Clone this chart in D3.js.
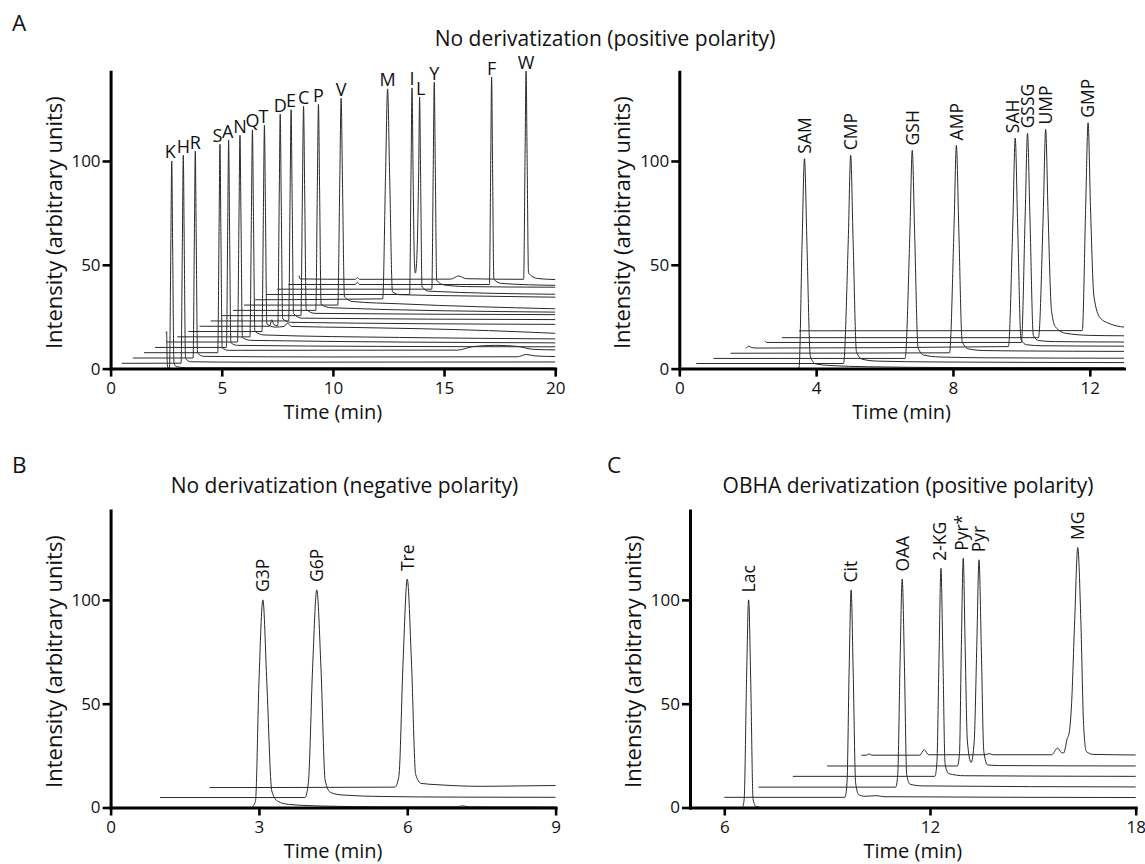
<!DOCTYPE html>
<html><head><meta charset="utf-8">
<script src="https://cdn.jsdelivr.net/npm/d3@7"></script>
<style>body{margin:0;background:#fff}svg{display:block}</style>
</head><body><svg id="c" width="1145" height="864"></svg>
<script>
// ---------------- DATA ----------------
const yTicks = [0, 50, 100];
const yMax = 143;

// Panel A (left): amino acids, positive polarity
const aLeftTicks = [0, 5, 10, 15, 20];
const aLeftNames = ["K","H","R","S","A","N","Q","T","D","E","C","P","V","M","I","L","Y","F","W"];
const aLeftTimes = [2.75,3.27,3.81,4.92,5.31,5.82,6.38,6.92,7.63,8.12,8.68,9.35,10.37,12.46,13.56,13.9,14.56,17.14,18.69];
const aLeftTops  = [100,102.7,104.8,108,110,112.4,115,117.2,122.5,124.7,126.3,127.3,130.2,134.7,135.2,130.7,137.9,140.4,143.3];
const aLeftTraces = [
 [[2.49,17.2],[2.52,17.8],[2.545,4],[2.57,0.4],[2.65,0.3],[2.71,60],[2.75,100],[2.79,60],[2.85,3],[2.95,1],[3.4,0.4],[20,0.3]],
 [[0.5,2.55],[3.17,2.6],[3.23,62.6],[3.27,102.7],[3.31,62.6],[3.37,5],[3.6,3.3],[6,3.1],[20,3.2]],
 [[1,5.1],[3.71,5.1],[3.77,64.9],[3.81,104.8],[3.85,64.9],[3.91,7.5],[4.2,5.9],[10,5.6],[18.3,5.7],[18.7,6.8],[19.1,6.1],[20,5.8]],
 [[1.5,7.65],[4.82,7.65],[4.88,67.9],[4.92,108],[4.96,67.9],[5.02,10],[5.3,8.8],[15.6,8.9],[16.3,10.6],[17.3,11.2],[18.3,10.7],[19,9.3],[20,9]],
 [[2,10.2],[5.21,10.2],[5.27,70.1],[5.31,110],[5.35,70.1],[5.41,12.5],[5.7,11.2],[12,10.7],[20,10.5]],
 [[2.5,13.4],[2.56,12.8],[5.71,12.8],[5.775,72.5],[5.82,112.4],[5.865,72.5],[5.93,15],[6.3,13.6],[20,12.4]],
 [[3,15.3],[6.27,15.3],[6.335,75.1],[6.38,115],[6.425,75.1],[6.49,18],[6.9,16.2],[13,15],[20,14.3]],
 [[3.5,17.85],[6.81,17.85],[6.875,77.5],[6.92,117.2],[6.965,77.5],[7.03,21.5],[7.4,20],[7.8,20.3],[7.95,21.8],[8.15,20.3],[11,19.8],[14,19.2],[17,18.3],[20,17]],
 [[4,20.4],[7.15,20.4],[7.25,23.5],[7.35,21.2],[7.52,20.6],[7.585,81.7],[7.63,122.5],[7.675,81.7],[7.74,24],[8.1,22.3],[20,21.3]],
 [[4.5,22.95],[8.01,22.95],[8.075,84],[8.12,124.7],[8.165,84],[8.23,26.5],[8.6,24.3],[20,23.6]],
 [[5,25.5],[8.56,25.5],[8.63,86],[8.68,126.3],[8.73,86],[8.8,28.5],[9.2,26.6],[20,26]],
 [[5.5,28.05],[9.23,28.05],[9.3,87.6],[9.35,127.3],[9.4,87.6],[9.47,31],[9.9,29.3],[20,27.2]],
 [[6,30.6],[10.22,30.6],[10.31,90.4],[10.37,130.2],[10.43,90.4],[10.52,34.5],[10.9,32.3],[13,31.2],[20,28.8]],
 [[6.5,33.15],[12.24,33.6],[12.37,94.1],[12.46,134.7],[12.55,94.1],[12.68,37],[13,35.6],[16,35],[20,34.4]],
 [[7,35.7],[13.45,35.7],[13.515,95.4],[13.56,135.2],[13.605,95.4],[13.665,52],[13.71,46],[13.77,52],[13.855,92.7],[13.9,130.7],[13.945,92.7],[14.01,39.5],[14.3,37.3],[20,35.8]],
 [[7.5,38.25],[14.45,38.25],[14.515,97.9],[14.56,137.9],[14.605,97.9],[14.67,42.5],[15,40.3],[16,39.5],[20,39.2]],
 [[8,40.5],[11,40.5],[11.1,41.5],[11.2,40.5],[17.04,40.5],[17.1,100.2],[17.14,140.4],[17.18,100.2],[17.24,43],[17.6,41],[20,40.1]],
 [[8.48,44.8],[8.52,43.2],[11,43],[11.1,43.8],[11.2,43],[15.3,43.1],[15.65,44.6],[16,43.3],[18.58,43],[18.645,103.2],[18.69,143.3],[18.735,103.2],[18.8,46],[19.2,43.4],[20,42.9]]
];

// Panel A (right): positive polarity
const aRightTicks = [0, 4, 8, 12];
const aRightNames = ["SAM","CMP","GSH","AMP","SAH","GSSG","UMP","GMP"];
const aRightTimes = [3.66,5.01,6.81,8.1,9.82,10.18,10.71,11.95];
const aRightTops  = [101.1,102.7,105.1,107.5,111,113.3,115.2,118.4];
const aRightTraces = [
 [[3.45,0],[3.5,0.3],[3.59,61],[3.66,101.1],[3.73,61],[3.83,6],[3.98,2.3],[4.4,1.5],[5.5,0.9],[8,0.5],[13,0.4]],
 [[0.5,2.45],[4.8,2.45],[4.94,62.2],[5.01,102.7],[5.08,62.2],[5.18,8],[5.35,4.5],[5.8,3.6],[7.5,3.2],[13,2.9]],
 [[1,4.9],[6.6,4.9],[6.74,65],[6.81,105.1],[6.88,65],[6.98,10],[7.15,6.5],[7.6,5.6],[9,5.2],[13,5]],
 [[1.5,7.4],[7.9,7.6],[8.03,67.5],[8.1,107.5],[8.17,67.5],[8.27,13],[8.45,9.5],[8.9,8.7],[10,8.5],[13,8.3]],
 [[1.95,9.7],[2.03,10.8],[2.12,10.1],[2.3,9.9],[9.62,10.6],[9.75,70],[9.82,111],[9.89,70],[9.99,14],[10.15,11.5],[10.6,11],[13,10.8]],
 [[2.5,13.4],[2.56,12.6],[10.0,12.6],[10.11,73],[10.18,113.3],[10.25,73],[10.35,16],[10.5,13.5],[11,13],[13,12.8]],
 [[3.0,14.9],[10.5,14.9],[10.64,75],[10.71,115.2],[10.78,75],[10.88,28],[11.0,20],[11.3,17],[12,16],[13,15.8]],
 [[3.5,18.2],[11.78,18.3],[11.88,78],[11.95,118.4],[12.02,78],[12.12,35],[12.3,24.5],[12.6,21.5],[13,20]]
];

// Panel B: negative polarity
const bTicks = [0, 3, 6, 9];
const bNames = ["G3P","G6P","Tre"];
const bTimes = [3.08,4.17,6.0];
const bTops  = [100,104.8,110];
const bTraces = [
 [[2.85,0],[2.93,3],[3.0,60],[3.08,100],[3.16,60],[3.26,8],[3.38,3],[3.6,1.5],[4.3,0.7],[5.5,0.3],[7.0,0.3],[7.12,0.8],[7.25,0.3],[9,0.2]],
 [[1,4.8],[3.93,4.8],[4.0,12],[4.085,67],[4.17,104.8],[4.255,67],[4.34,13],[4.45,7.2],[4.7,6],[5.5,5.3],[7,5],[9,4.9]],
 [[2,9.6],[5.75,9.8],[5.83,15],[5.915,70],[6.0,110],[6.085,70],[6.17,16],[6.28,11.6],[6.6,11],[7.5,10.2],[8.3,10.4],[9,10.6]]
];

// Panel C: OBHA derivatization
const cTicks = [6, 12, 18];
const cNames = ["Lac","Cit","OAA","2-KG","Pyr*","Pyr","MG"];
const cTimes = [6.71,9.7,11.19,12.32,12.97,13.43,16.31];
const cTops  = [100,104.8,110,115.2,120,119.3,125.2];
const cTraces = [
 [[6.53,0],[6.58,4],[6.65,62],[6.71,100],[6.77,62],[6.84,4],[6.92,0.5],[7.1,0],[18,0]],
 [[6,4.9],[9.52,4.9],[9.58,12],[9.64,65],[9.7,104.8],[9.76,65],[9.83,12],[9.92,6.2],[10.1,5.4],[10.45,5.7],[10.65,5.2],[18,4.8]],
 [[7,9.8],[11.0,9.8],[11.06,16],[11.125,68],[11.19,110],[11.255,68],[11.32,16],[11.42,11.2],[11.8,10.4],[18,9.9]],
 [[8,15],[12.14,15],[12.2,21],[12.265,74],[12.32,115.2],[12.375,74],[12.44,21],[12.55,16.3],[13,15.3],[18,15]],
 [[9,20],[12.8,20],[12.86,26],[12.915,78],[12.97,120],[13.025,78],[13.09,32],[13.2,21.7],[13.29,32],[13.365,78],[13.43,119.3],[13.495,78],[13.57,27],[13.68,20.5],[14,20.2],[18,20]],
 [[10,25.2],[10.15,25.2],[10.22,25.8],[10.3,25.2],[11.7,25.2],[11.83,27.8],[11.96,25.4],[13.6,25.4],[13.72,25.9],[13.85,25.4],[15.55,25.4],[15.72,28.6],[15.84,26.4],[15.9,26.3],[16.0,33],[16.06,36],[16.13,50],[16.22,90],[16.31,125.2],[16.4,90],[16.48,40],[16.56,27],[16.75,25.6],[18,25.3]]
];

const panelLetters = ["A","B","C"];
const titles = ["No derivatization (positive polarity)","No derivatization (negative polarity)","OBHA derivatization (positive polarity)"];
const xTitle = "Time (min)";
const yTitle = "Intensity (arbitrary units)";

// ---------------- DRAW ----------------
const FONT = "'Open Sans', 'Noto Sans', sans-serif";
const INK = "#111";
const svg = d3.select("#c");

function panel(cfg) {
  const g = svg.append("g");
  const x = d3.scaleLinear().domain(cfg.xDomain).range([cfg.left, cfg.right]);
  const y = d3.scaleLinear().domain([0, yMax]).range([cfg.bottom, cfg.top]);
  const line = d3.line().x(d => x(d[0])).y(d => y(d[1])).curve(d3.curveMonotoneX);

  g.append("g").selectAll("path").data(cfg.traces).join("path")
    .attr("d", line).attr("fill", "none").attr("stroke", "#2a2a2a").attr("stroke-width", 1);

  const xa = g.append("g").attr("transform", `translate(0,${cfg.bottom})`)
    .call(d3.axisBottom(x).tickValues(cfg.xTicks).tickSize(8).tickSizeOuter(0).tickPadding(5.5).tickFormat(d3.format("d")));
  const ya = g.append("g").attr("transform", `translate(${cfg.left},0)`)
    .call(d3.axisLeft(y).tickValues(yTicks).tickSize(8).tickSizeOuter(0).tickPadding(2).tickFormat(d3.format("d")));
  [xa, ya].forEach(a => {
    a.select(".domain").attr("stroke", "#000").attr("stroke-width", 3).attr("stroke-linecap", "square");
    a.selectAll(".tick line").attr("stroke", "#000").attr("stroke-width", 2.6);
    a.selectAll(".tick text").attr("font-size", 17).attr("font-family", FONT).attr("fill", INK);
  });

  g.append("text").attr("x", (cfg.left + cfg.right) / 2).attr("y", cfg.bottom + 50)
    .attr("text-anchor", "middle").attr("font-family", FONT).attr("font-size", 20).attr("fill", INK).text(xTitle);
  g.append("text").attr("transform", `translate(${cfg.left - 55},${(cfg.top + cfg.bottom) / 2 + 2.5}) rotate(-90)`)
    .attr("dy", "0.27em").attr("text-anchor", "middle").attr("font-family", FONT).attr("font-size", 22).attr("fill", INK).text(yTitle);

  cfg.names.forEach((n, i) => {
    const px = x(cfg.times[i]) + (cfg.dx ? cfg.dx[i] : 0), py = y(cfg.tops[i]) - cfg.gap;
    if (cfg.rotate) {
      g.append("text").attr("transform", `translate(${px},${py}) rotate(-90)`).attr("dy", "0.36em")
        .attr("text-anchor", "start").attr("font-family", FONT).attr("font-size", 17.5).attr("fill", INK).text(n);
    } else {
      g.append("text").attr("x", px).attr("y", py).attr("text-anchor", "middle")
        .attr("font-family", FONT).attr("font-size", 18).attr("fill", INK).text(n);
    }
  });
}

panel({xDomain:[0,20], xTicks:aLeftTicks, left:110.6, right:555.2, top:71.7, bottom:368.6,
  traces:aLeftTraces, names:aLeftNames, times:aLeftTimes, tops:aLeftTops, gap:2.5, rotate:false,
  dx:[-1.5,0,0,-2.5,-1,0,0,-1,0,0,0,0,0,0,0,1,0,0,0]});
panel({xDomain:[0,13], xTicks:aRightTicks, left:679.3, right:1124, top:71.7, bottom:368.6,
  traces:aRightTraces, names:aRightNames, times:aRightTimes, tops:aRightTops, gap:5, rotate:true,
  dx:[0,0,0,0,-3,0,0,0]});
panel({xDomain:[0,9], xTicks:bTicks, left:110.6, right:555.6, top:510.6, bottom:807.5,
  traces:bTraces, names:bNames, times:bTimes, tops:bTops, gap:8, rotate:true});
panel({xDomain:[5,18], xTicks:cTicks, left:690, right:1135.7, top:510.6, bottom:807.5,
  traces:cTraces, names:cNames, times:cTimes, tops:cTops, gap:7.5, rotate:true,
  dx:[0,0,0,-1,-2,0,0]});

const tt = [[605, 45.5], [344.5, 493.3], [908, 493.3]];
titles.forEach((t, i) => svg.append("text").attr("x", tt[i][0]).attr("y", tt[i][1]).attr("text-anchor", "middle")
  .attr("font-family", FONT).attr("font-size", 21).attr("fill", INK).text(t));
const lp = [[12, 31], [12, 473], [607, 473]];
panelLetters.forEach((t, i) => svg.append("text").attr("x", lp[i][0]).attr("y", lp[i][1])
  .attr("font-family", FONT).attr("font-size", 22.5).attr("fill", INK).text(t));
</script>
</body></html>
